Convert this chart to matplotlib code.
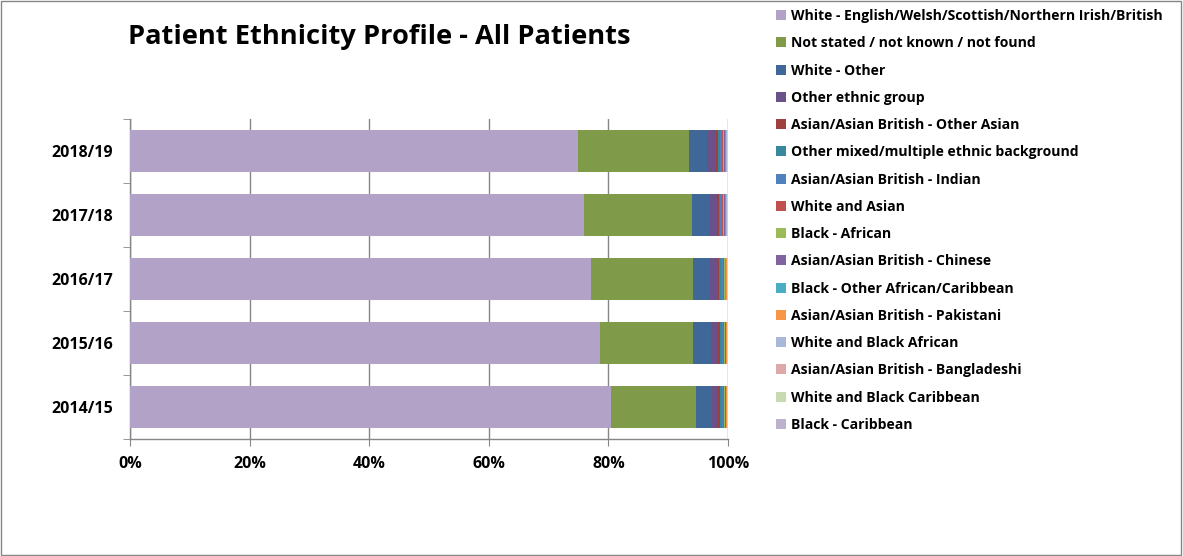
import matplotlib
matplotlib.use("Agg")
import matplotlib.pyplot as plt
from matplotlib.patches import Rectangle
import numpy as np

plt.rcParams['font.family'] = ['Open Sans', 'DejaVu Sans']
plt.rcParams['font.weight'] = 'bold'

years = ["2014/15", "2015/16", "2016/17", "2017/18", "2018/19"]

groups = [
    "White - English/Welsh/Scottish/Northern Irish/British",
    "Not stated / not known / not found",
    "White - Other",
    "Other ethnic group",
    "Asian/Asian British - Other Asian",
    "Other mixed/multiple ethnic background",
    "Asian/Asian British - Indian",
    "White and Asian",
    "Black - African",
    "Asian/Asian British - Chinese",
    "Black - Other African/Caribbean",
    "Asian/Asian British - Pakistani",
    "White and Black African",
    "Asian/Asian British - Bangladeshi",
    "White and Black Caribbean",
    "Black - Caribbean",
]

# percentage of patients per group, one value per year (2014/15 .. 2018/19)
white_british = [80.4, 78.5, 77.0, 75.9, 74.9]
not_stated = [14.2, 15.6, 17.0, 18.0, 18.6]
white_other = [2.7, 2.9, 2.9, 2.8, 2.9]
other_ethnic = [0.9, 1.2, 1.2, 1.3, 1.6]
asian_other = [0.40, 0.35, 0.30, 0.30, 0.35]
mixed_other = [0.30, 0.28, 0.28, 0.30, 0.30]
asian_indian = [0.25, 0.25, 0.28, 0.28, 0.30]
white_asian = [0.15, 0.15, 0.17, 0.18, 0.18]
black_african = [0.15, 0.15, 0.16, 0.18, 0.18]
asian_chinese = [0.12, 0.12, 0.12, 0.14, 0.14]
black_other = [0.08, 0.09, 0.10, 0.12, 0.12]
asian_pakistani = [0.08, 0.08, 0.09, 0.09, 0.10]
white_black_african = [0.07, 0.07, 0.08, 0.08, 0.08]
asian_bangladeshi = [0.05, 0.05, 0.05, 0.06, 0.06]
white_black_caribbean = [0.07, 0.07, 0.07, 0.08, 0.08]
black_caribbean = [0.05, 0.05, 0.05, 0.06, 0.06]

series = [white_british, not_stated, white_other, other_ethnic, asian_other,
          mixed_other, asian_indian, white_asian, black_african, asian_chinese,
          black_other, asian_pakistani, white_black_african, asian_bangladeshi,
          white_black_caribbean, black_caribbean]

colors = ["#B3A2C7", "#7F9A48", "#3F6797", "#6A518A", "#A0403E", "#37889C",
          "#4F81BD", "#C0504D", "#9BBB59", "#8064A2", "#4BACC6", "#F79646",
          "#A9B8D9", "#DDA8A7", "#C9DAB2", "#BDB1D0"]

data = np.array(series, dtype=float)
shares = data / data.sum(axis=0) * 100  # 100% stacked

fig = plt.figure(figsize=(11.83, 5.56), dpi=100)
ax = fig.add_axes([130 / 1183, 1 - 439 / 556, 598 / 1183, 320 / 556])

ypos = np.arange(len(years))
left = np.zeros(len(years))
handles = []
for label, vals, col in zip(groups, shares, colors):
    h = ax.barh(ypos, vals, left=left, height=0.66, color=col,
                edgecolor='none', label=label, zorder=3)
    handles.append(h)
    left += vals

ax.set_xlim(0, 100)
ax.set_ylim(-0.5, len(years) - 0.5)
ax.set_xticks(np.arange(0, 101, 20))
ax.set_xticklabels([f"{v}%" for v in range(0, 101, 20)])
ax.set_yticks(ypos)
ax.set_yticklabels(years)
ax.set_yticks(np.arange(-0.5, len(years), 1.0), minor=True)

ax.grid(axis='x', color='#868686', linewidth=1.0, zorder=0)
for s in ['top', 'right']:
    ax.spines[s].set_visible(False)
for s in ['left', 'bottom']:
    ax.spines[s].set_color('#868686')
    ax.spines[s].set_linewidth(1.0)

ax.tick_params(axis='y', which='major', length=0, pad=12, labelsize=11.5)
ax.tick_params(axis='y', which='minor', length=5, color='#868686', direction='out')
ax.tick_params(axis='x', which='major', length=5, color='#868686', direction='out',
               labelsize=11.5, pad=7)
for t in ax.get_xticklabels() + ax.get_yticklabels():
    t.set_fontweight('bold')

fig.text(128 / 1183, 1 - 44 / 556, "Patient Ethnicity Profile - All Patients",
         ha='left', va='baseline', fontsize=19.6, fontweight='bold')

fig.legend(handles=handles, labels=groups, loc='upper left',
           bbox_to_anchor=(776 / 1183, 1 - 9 / 556), frameon=False,
           prop={'size': 10.1, 'weight': 'bold'}, handlelength=0.72,
           handleheight=0.72, handletextpad=0.35, labelspacing=0.945,
           borderaxespad=0, borderpad=0)

fig.patches.append(Rectangle((0.0005, 0.001), 0.998, 0.998, transform=fig.transFigure,
                             fill=False, edgecolor='#868686', linewidth=1.0))

fig.savefig("out.png", dpi=100)
